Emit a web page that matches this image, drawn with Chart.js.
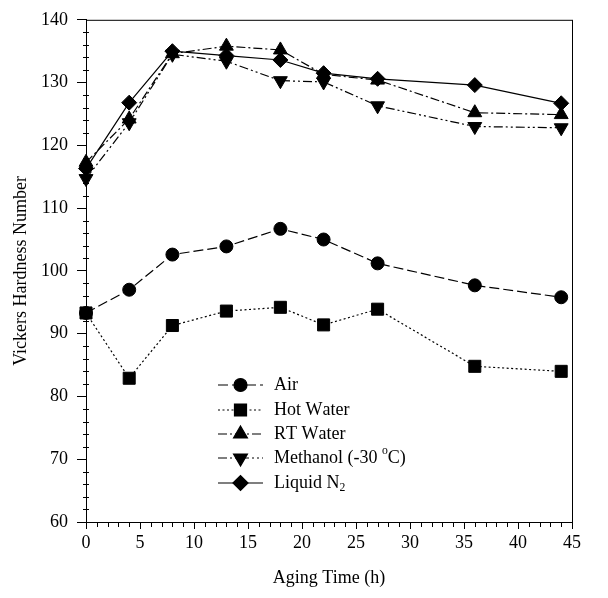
<!DOCTYPE html>
<html>
<head>
<meta charset="utf-8">
<script src="https://cdn.jsdelivr.net/npm/chart.js@4.4.0/dist/chart.umd.min.js"></script>
<style>
  html, body { margin: 0; padding: 0; background: #fff; }
  #wrap { width: 608px; height: 598px; }
</style>
</head>
<body>
<div id="wrap"><canvas id="chart" width="608" height="598"></canvas></div>
<script>
// aging time (h)
const hours = [0, 4, 8, 13, 18, 22, 27, 36, 44];

// Vickers hardness per environment
const air      = [93.3, 97.0, 102.6, 103.9, 106.7, 105.0, 101.2, 97.7, 95.8];
const hotWater = [93.3, 82.9, 91.3, 93.6, 94.2, 91.4, 93.9, 84.8, 84.0];
const rtWater  = [117.3, 124.2, 134.6, 135.8, 135.2, 131.3, 130.4, 125.2, 124.9];
const methanol = [114.7, 123.6, 134.5, 133.4, 130.3, 130.1, 126.3, 123.0, 122.8];
const liquidN2 = [116.3, 126.8, 135.0, 134.3, 133.6, 131.5, 130.6, 129.6, 126.7];

const seriesNames = ['Air', 'Hot Water', 'RT Water', 'Methanol (-30 °C)', 'Liquid N₂'];

const FONT = '"Liberation Serif", "Times New Roman", serif';

const toPoints = (ys) => hours.map((h, i) => ({ x: h, y: ys[i] }));

function series(label, ys, style, radius, rotation, dash) {
  return {
    label: label,
    data: toPoints(ys),
    borderColor: '#000',
    backgroundColor: '#000',
    borderWidth: 1.2,
    borderDash: dash,
    pointStyle: style,
    pointRotation: rotation,
    pointRadius: radius,
    pointBorderWidth: 1,
    pointBackgroundColor: '#000',
    pointBorderColor: '#000',
    tension: 0,
    fill: false,
    clip: false
  };
}

// draws text with ° as superscript o and ₂ as subscript 2
function drawRich(ctx, text, x, y, size) {
  let cx = x;
  for (const ch of text) {
    if (ch === '°') {
      ctx.font = (size * 0.65) + 'px ' + FONT;
      ctx.fillText('o', cx, y - size * 0.38);
      cx += ctx.measureText('o').width;
    } else if (ch === '₂') {
      ctx.font = (size * 0.65) + 'px ' + FONT;
      ctx.fillText('2', cx, y + size * 0.28);
      cx += ctx.measureText('2').width;
    } else {
      ctx.font = size + 'px ' + FONT;
      ctx.fillText(ch, cx, y);
      cx += ctx.measureText(ch).width;
    }
  }
}

const framePlugin = {
  id: 'frame',
  afterDraw(chart) {
    const ctx = chart.ctx;
    const a = chart.chartArea;
    const xs = chart.scales.x, ys = chart.scales.y;
    ctx.save();
    ctx.strokeStyle = '#000';
    ctx.lineWidth = 1;
    ctx.setLineDash([]);
    ctx.strokeRect(a.left + 0.5, a.top + 0.5, a.right - a.left, a.bottom - a.top);
    ctx.beginPath();
    // minor ticks
    for (let v = 0; v <= 45; v += 1) {
      if (v % 5 === 0) continue;
      const px = Math.round(xs.getPixelForValue(v)) + 0.5;
      ctx.moveTo(px, a.bottom);
      ctx.lineTo(px, a.bottom + 5);
    }
    for (let v = 60; v <= 140; v += 2) {
      if (v % 10 === 0) continue;
      const py = Math.round(ys.getPixelForValue(v)) + 0.5;
      ctx.moveTo(a.left - 3, py);
      ctx.lineTo(a.left + 3, py);
    }
    ctx.stroke();

    // legend
    const lx0 = 218, lx1 = 263, tx = 274;
    const rows = [385, 410, 434, 458, 483];
    chart.data.datasets.forEach((ds, i) => {
      const y = rows[i];
      ctx.beginPath();
      ctx.setLineDash(ds.borderDash || []);
      ctx.lineWidth = 1.2;
      ctx.moveTo(lx0, y);
      ctx.lineTo(lx1, y);
      ctx.stroke();
      ctx.setLineDash([]);
      Chart.helpers.drawPoint(ctx, {
        pointStyle: ds.pointStyle,
        rotation: ds.pointRotation,
        radius: ds.pointRadius,
        borderWidth: 1
      }, (lx0 + lx1) / 2, y);
      ctx.fillStyle = '#000';
      ctx.textBaseline = 'middle';
      ctx.textAlign = 'left';
      drawRich(ctx, seriesNames[i], tx, y, 18);
    });
    ctx.restore();
  }
};

new Chart(document.getElementById('chart'), {
  type: 'line',
  data: {
    datasets: [
      series(seriesNames[0], air, 'circle', 6.5, 0, [10, 4]),
      series(seriesNames[1], hotWater, 'rect', 8.5, 0, [2, 2.5]),
      series(seriesNames[2], rtWater, 'triangle', 8, 0, [9, 3, 2, 3]),
      series(seriesNames[3], methanol, 'triangle', 8, 180, [9, 3, 2, 3, 2, 3]),
      series(seriesNames[4], liquidN2, 'rectRot', 7.5, 0, [])
    ]
  },
  options: {
    responsive: false,
    animation: false,
    layout: { padding: { top: 18, right: 36, left: 0, bottom: 0 } },
    plugins: {
      legend: { display: false },
      tooltip: { enabled: false }
    },
    scales: {
      x: {
        type: 'linear',
        min: 0,
        max: 45,
        ticks: { stepSize: 5, color: '#000', font: { family: FONT, size: 18 }, padding: 3, maxRotation: 0 },
        grid: { display: true, drawOnChartArea: false, drawTicks: true, tickLength: 7, color: '#000' },
        border: { display: true, color: '#000', width: 1 },
        title: { display: true, text: 'Aging Time (h)', color: '#000', font: { family: FONT, size: 18 }, padding: { top: 0, bottom: 9 } },
        afterFit(scale) { scale.height = 76; }
      },
      y: {
        type: 'linear',
        min: 60,
        max: 140,
        ticks: { stepSize: 10, color: '#000', font: { family: FONT, size: 18 }, padding: 9 },
        grid: { display: true, drawOnChartArea: false, drawTicks: true, tickLength: 9, color: '#000' },
        border: { display: true, color: '#000', width: 1 },
        title: { display: true, text: 'Vickers Hardness Number', color: '#000', font: { family: FONT, size: 18 }, padding: { top: 10, bottom: 0 } },
        afterFit(scale) { scale.width = 86; }
      }
    }
  },
  plugins: [framePlugin]
});
</script>
</body>
</html>
